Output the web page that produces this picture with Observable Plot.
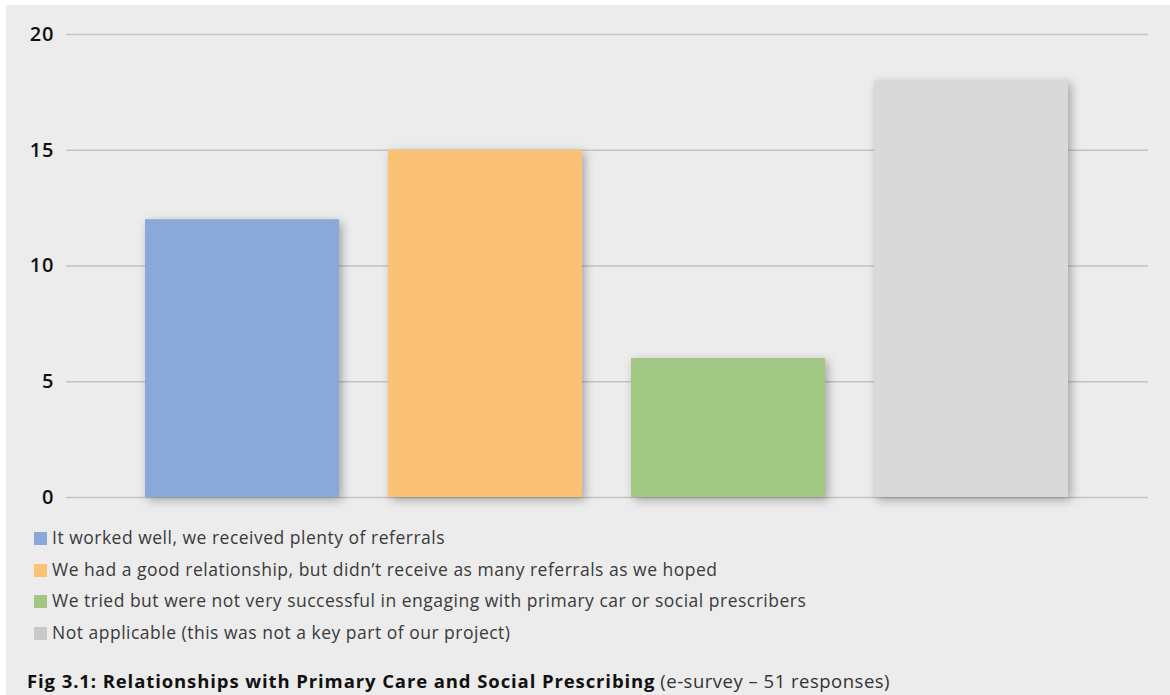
<!DOCTYPE html>
<html>
<head>
<meta charset="utf-8">
<script src="https://cdn.jsdelivr.net/npm/d3@7"></script>
<script src="https://cdn.jsdelivr.net/npm/@observablehq/plot@0.6"></script>
<style>
  html, body { margin: 0; padding: 0; background: #ffffff; }
  #panel {
    position: absolute; left: 6px; top: 5px; width: 1164px; height: 690px;
    background: #ececec; font-family: "Open Sans", sans-serif; color: #222;
  }
  #chart svg { display: block; }
  #legend { margin-top: 7px; padding-left: 28px; }
  .row { height: 31.5px; line-height: 31.5px; font-size: 17.5px; letter-spacing: 0.5px; color: #3a3a3a; white-space: nowrap; }
  .sw { display: inline-block; width: 13px; height: 13px; margin-right: 5px; vertical-align: -1px; }
  #caption { margin-top: 21px; padding-left: 21px; font-size: 18.5px; line-height: 24px; color: #111; white-space: nowrap; }
  #caption b { font-weight: 700; letter-spacing: 0.9px; }
  #caption span { color: #333; letter-spacing: 0.5px; }
</style>
</head>
<body>
<div id="panel">
  <div id="chart"></div>
  <div id="legend"></div>
  <div id="caption"><b>Fig 3.1: Relationships with Primary Care and Social Prescribing</b> <span>(e-survey – 51 responses)</span></div>
</div>
<script>
const categories = [
  "It worked well, we received plenty of referrals",
  "We had a good relationship, but didn’t receive as many referrals as we hoped",
  "We tried but were not very successful in engaging with primary car or social prescribers",
  "Not applicable (this was not a key part of our project)"
];
const values = [12, 15, 6, 18];
const colors = ["#8aa9d8", "#fbc276", "#a2c785", "#d9d9d9"];
const legendColors = ["#8aa9d8", "#fbc276", "#a2c785", "#c9c9c9"];
const yTicks = [0, 5, 10, 15, 20];

const data = categories.map((c, i) => ({category: c, value: values[i]}));

const plot = Plot.plot({
  width: 1164,
  height: 510,
  marginLeft: 60,
  marginRight: 22,
  marginTop: 29,
  marginBottom: 18,
  style: {background: "transparent", fontFamily: "'Open Sans', sans-serif", fontSize: "20px", color: "#111"},
  x: {domain: categories, axis: null, paddingInner: 0.2, paddingOuter: 0.32},
  y: {domain: [0, 20], ticks: yTicks, tickSize: 0, tickPadding: 12, label: null, tickFormat: d => d},
  color: {domain: categories, range: colors},
  marks: [
    Plot.ruleY(yTicks, {stroke: "#c3c3c3", strokeWidth: 1.5}),
    Plot.barY(data, {x: "category", y: "value", fill: "category"})
  ]
});
document.getElementById("chart").appendChild(plot);
plot.querySelectorAll("g[aria-label='y-axis tick label'] text, g[aria-label='y-axis'] text").forEach(t => {
  t.style.fontWeight = "600";
  t.style.letterSpacing = "1px";
});
const barG = plot.querySelector("g[aria-label='bar']");
if (barG) barG.style.filter = "drop-shadow(3px 3px 5px rgba(0,0,0,0.3))";

const legend = document.getElementById("legend");
categories.forEach((c, i) => {
  const row = document.createElement("div");
  row.className = "row";
  const sw = document.createElement("span");
  sw.className = "sw";
  sw.style.background = legendColors[i];
  row.appendChild(sw);
  row.appendChild(document.createTextNode(c));
  legend.appendChild(row);
});
</script>
</body>
</html>
